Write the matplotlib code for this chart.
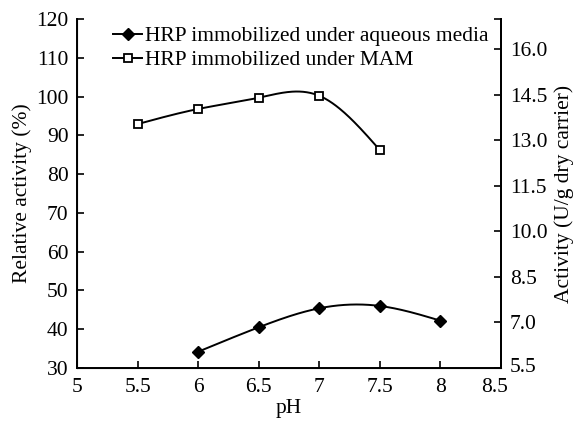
import matplotlib
matplotlib.use("Agg")
import matplotlib.pyplot as plt
import matplotlib.transforms as mtransforms
import numpy as np

plt.rcParams['font.family'] = ['Liberation Serif', 'DejaVu Serif']
plt.rcParams['mathtext.fontset'] = 'stix'

# data (relative activity, %)
ph_mam = [5.5, 6.0, 6.5, 7.0, 7.5]
rel_mam = [92.9, 96.8, 99.7, 100.2, 86.2]
ph_aq = [6.0, 6.5, 7.0, 7.5, 8.0]
rel_aq = [34.2, 40.5, 45.4, 46.0, 42.2]

x_ticks = [5, 5.5, 6, 6.5, 7, 7.5, 8, 8.5]
x_labels = ['5', '5.5', '6', '6.5', '7', '7.5', '8', '8.5']
left_ticks = list(range(30, 121, 10))
right_ticks = [5.5, 7.0, 8.5, 10.0, 11.5, 13.0, 14.5, 16.0, 17.0]
right_labels = ['5.5', '7.0', '8.5', '10.0', '11.5', '13.0', '14.5', '16.0', '']

FS = 15.5


def spline(x, y, n=200):
    # natural cubic spline for the smoothed connecting line
    x = np.asarray(x, float)
    y = np.asarray(y, float)
    m = len(x)
    h = np.diff(x)
    A = np.zeros((m, m))
    b = np.zeros(m)
    A[0, 0] = A[-1, -1] = 1
    for i in range(1, m - 1):
        A[i, i - 1] = h[i - 1]
        A[i, i] = 2 * (h[i - 1] + h[i])
        A[i, i + 1] = h[i]
        b[i] = 3 * ((y[i + 1] - y[i]) / h[i] - (y[i] - y[i - 1]) / h[i - 1])
    c = np.linalg.solve(A, b)
    xs = np.linspace(x[0], x[-1], n)
    idx = np.clip(np.searchsorted(x, xs) - 1, 0, m - 2)
    dx = xs - x[idx]
    bb = (y[1:] - y[:-1]) / h - h * (2 * c[:-1] + c[1:]) / 3
    d = (c[1:] - c[:-1]) / (3 * h)
    ys = y[idx] + bb[idx] * dx + c[idx] * dx ** 2 + d[idx] * dx ** 3
    return xs, ys


fig = plt.figure(figsize=(5.78, 4.21), dpi=100)
ax = fig.add_axes([77 / 578, 1 - 368 / 421, 424 / 578, 349 / 421])

xs, ys = spline(ph_aq, rel_aq)
ax.plot(xs, ys, color='black', lw=1.4)
ax.plot(ph_aq, rel_aq, ls='none', marker='D', ms=6, color='black')
xs, ys = spline(ph_mam, rel_mam)
ax.plot(xs, ys, color='black', lw=1.4)
ax.plot(ph_mam, rel_mam, ls='none', marker='s', ms=6, mfc='white', mec='black', mew=1.3)

# legend proxies
h1, = ax.plot([], [], color='black', lw=1.4, marker='D', ms=6)
h2, = ax.plot([], [], color='black', lw=1.4, marker='s', ms=6, mfc='white', mew=1.3)
ax.legend([h1, h2], ['HRP immobilized under aqueous media', 'HRP immobilized under MAM'],
          loc='upper left', bbox_to_anchor=(0.085, 0.98), frameon=False, fontsize=FS,
          handlelength=1.35, handletextpad=0.15, labelspacing=0.2,
          borderpad=0, borderaxespad=0)

ax.set_xlim(5, 8.5)
ax.set_ylim(30, 120)
ax.set_xticks(x_ticks)
ax.set_xticklabels(x_labels)
ax.set_yticks(left_ticks)
ax.tick_params(direction='in', length=5, width=1.2, labelsize=FS)
ax.tick_params(axis='x', pad=7)
ax.tick_params(axis='y', pad=6)
ax.spines['top'].set_visible(False)
for s in ['left', 'bottom', 'right']:
    ax.spines[s].set_linewidth(1.4)
ax.set_xlabel('pH', fontsize=FS, labelpad=2)
ax.set_ylabel('Relative activity (%)', fontsize=FS, labelpad=3)

ax2 = ax.twinx()
ax2.set_ylim(5.5, 17.0)
ax2.set_yticks(right_ticks)
ax2.set_yticklabels(right_labels)
ax2.tick_params(direction='in', length=5, width=1.2, labelsize=FS, pad=6.5)
ax2.spines['top'].set_visible(False)
ax2.spines['right'].set_linewidth(1.4)
ax2.set_ylabel('Activity (U/g dry carrier)', fontsize=FS, labelpad=5)

# nudge the two corner labels apart like in the original
lab = ax.get_xticklabels()[-1]
lab.set_transform(lab.get_transform() + mtransforms.ScaledTranslation(-6 / 100, 0, fig.dpi_scale_trans))
lab = ax2.get_yticklabels()[0]
lab.set_transform(lab.get_transform() + mtransforms.ScaledTranslation(0, 3 / 100, fig.dpi_scale_trans))

fig.savefig('out.png', dpi=100)
